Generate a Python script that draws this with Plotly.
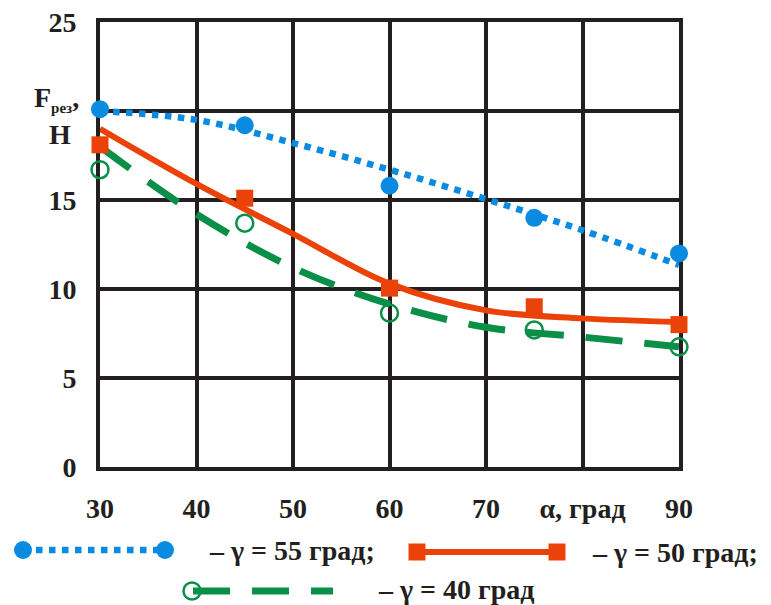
import plotly.graph_objects as go

# ---- data ----
alpha_pts = [30, 45, 60, 75, 90]
f_g55 = [20.1, 19.2, 15.8, 14.0, 12.0]
f_g50 = [18.1, 15.1, 10.05, 9.0, 8.0]
f_g40 = [16.7, 13.7, 8.65, 7.7, 6.75]

alpha_fit = [30, 40, 50, 60, 70, 80, 90]
fit_g55 = [20.0, 19.5, 18.2, 16.7, 15.05, 13.3, 11.35]
fit_g50 = [19.0, 15.9, 13.1, 10.3, 8.8, 8.35, 8.15]
fit_g40 = [18.0, 14.2, 11.2, 9.15, 7.85, 7.3, 6.75]

x_tickvals = [30, 40, 50, 60, 70, 80, 90]
x_ticktext = ["30", "40", "50", "60", "70", "α, град", "90"]
y_tickvals = [0, 5, 10, 15, 25]
y_ticktext = ["0", "5", "10", "15", "25"]

legend_labels = ["– γ = 55 град;", "– γ = 50 град;", "– γ = 40 град"]

BLUE = "#0a8be2"
RED = "#ea4208"
GREEN = "#0a8f48"
GRID = "#231f20"
FONT = "Liberation Serif, Times New Roman, serif"

W, H = 771, 605
x0, x1 = 100, 679
y0, y1 = 22, 467

fig = go.Figure()

# fitted curves
fig.add_trace(go.Scatter(x=alpha_fit, y=fit_g55, mode="lines", line_shape="spline",
                         line=dict(color=BLUE, width=6.5, dash="6.5px,6.5px"), cliponaxis=False))
fig.add_trace(go.Scatter(x=alpha_fit, y=fit_g50, mode="lines", line_shape="spline",
                         line=dict(color=RED, width=6), cliponaxis=False))
fig.add_trace(go.Scatter(x=alpha_fit, y=fit_g40, mode="lines", line_shape="spline",
                         line=dict(color=GREEN, width=7, dash="37px,22px"), cliponaxis=False))
# measured points
fig.add_trace(go.Scatter(x=alpha_pts, y=f_g55, mode="markers",
                         marker=dict(symbol="circle", size=18, color=BLUE), cliponaxis=False))
fig.add_trace(go.Scatter(x=alpha_pts, y=f_g50, mode="markers",
                         marker=dict(symbol="square", size=17, color=RED), cliponaxis=False))
fig.add_trace(go.Scatter(x=alpha_pts, y=f_g40, mode="markers",
                         marker=dict(symbol="circle-open", size=17, color=GREEN,
                                     line=dict(width=2.5, color=GREEN)), cliponaxis=False))

# legend keys (drawn on a full-page helper axis, in pixel units)
leg = dict(xaxis="x2", yaxis="y2", cliponaxis=False, showlegend=False)
fig.add_trace(go.Scatter(x=[23, 165], y=[550, 550], mode="lines",
                         line=dict(color=BLUE, width=6.5, dash="6.5px,6.5px"), **leg))
fig.add_trace(go.Scatter(x=[23, 165], y=[550, 550], mode="markers",
                         marker=dict(symbol="circle", size=18, color=BLUE), **leg))
fig.add_trace(go.Scatter(x=[417, 557], y=[552, 552], mode="lines+markers",
                         line=dict(color=RED, width=6),
                         marker=dict(symbol="square", size=17, color=RED), **leg))
fig.add_trace(go.Scatter(x=[193, 333], y=[591, 591], mode="lines",
                         line=dict(color=GREEN, width=7, dash="37px,22px"), **leg))
fig.add_trace(go.Scatter(x=[192], y=[591], mode="markers",
                         marker=dict(symbol="circle-open", size=17, color=GREEN,
                                     line=dict(width=2.5, color=GREEN)), **leg))

tickfont = dict(family=FONT, size=28, color=GRID, weight="bold")
axis_common = dict(showgrid=True, gridcolor=GRID, gridwidth=4, zeroline=False,
                   showline=True, linecolor=GRID, linewidth=4, mirror=True,
                   ticks="", automargin=False, tickfont=tickfont, layer="below traces")

fig.update_layout(
    width=W, height=H,
    margin=dict(l=0, r=0, t=0, b=0),
    paper_bgcolor="white", plot_bgcolor="rgba(0,0,0,0)",
    showlegend=False,
    font=dict(family=FONT, color=GRID),
    xaxis=dict(range=[30, 90], domain=[x0 / W, x1 / W], tickvals=x_tickvals,
               ticktext=x_ticktext, ticklabelstandoff=13, anchor="y", **axis_common),
    yaxis=dict(range=[0, 25], domain=[(H - y1) / H, (H - y0) / H], tickvals=y_tickvals,
               ticktext=y_ticktext, ticklabelstandoff=14, anchor="x",
               minor=dict(dtick=5, tick0=0, showgrid=True, gridcolor=GRID, gridwidth=4, ticks=""),
               **axis_common),
    xaxis2=dict(domain=[0, 1], range=[0, W], visible=False, anchor="y2", fixedrange=True),
    yaxis2=dict(domain=[0, 1], range=[H, 0], visible=False, anchor="x2", fixedrange=True),
)

ann = []
ann.append(dict(x=32, y=99, xref="x2", yref="y2",
                text="F<sub><span style='font-size:15px'>рез</span></sub>,",
                showarrow=False, xanchor="left", yanchor="middle",
                font=dict(family=FONT, size=28, color=GRID, weight="bold")))
ann.append(dict(x=60, y=134, xref="x2", yref="y2", text="Н",
                showarrow=False, xanchor="center", yanchor="middle",
                font=dict(family=FONT, size=28, color=GRID, weight="bold")))
for (lx, ly), txt in zip([(207, 550), (590, 552), (376, 589)], legend_labels):
    ann.append(dict(x=lx, y=ly, xref="x2", yref="y2", text=txt,
                    showarrow=False, xanchor="left", yanchor="middle",
                    font=dict(family=FONT, size=28, color=GRID, weight="bold")))
fig.update_layout(annotations=ann)

fig.write_html("out.html")
